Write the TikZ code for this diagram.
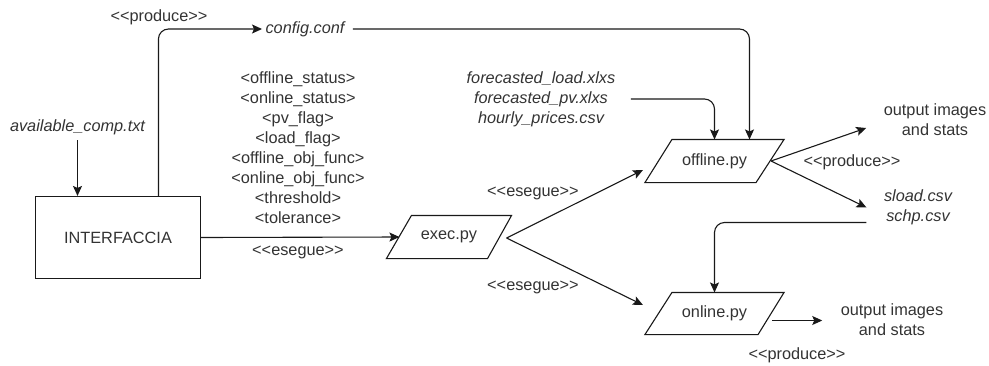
\documentclass[tikz,border=0pt]{standalone}
\usepackage{fontspec}
\setmainfont{Liberation Sans}[Ligatures=TeXOff]
\usetikzlibrary{arrows.meta,calc}

% parallelogram drawn over a named (invisible) rectangle node
\newcommand\drawpgram[3]{%
  \draw ($(#1.north west)+(#2,0)$) -- (#1.north east)
        -- ($(#1.south east)+(-#3,0)$) -- (#1.south west) -- cycle;}

\begin{document}
\begin{tikzpicture}[x=1pt,y=-1pt,line width=1.1pt,draw=black!90,
  every node/.style={font=\fontsize{16.3}{20}\selectfont,inner sep=0pt,align=center,text=black!80},
  file/.style={font=\fontsize{16.3}{20}\selectfont\itshape},
  conn/.style={-{Stealth[length=10pt,width=9pt,inset=2pt]},line join=round},
  roundconn/.style={conn,rounded corners=10pt},
  pgbox/.style={minimum width=138pt,minimum height=42pt}]
\useasboundingbox (0,0) rectangle (989,365);

% main blocks
\node[draw,text=black!80,minimum width=165pt,minimum height=82pt] (box) at (118,237.5) {INTERFACCIA};
\node[pgbox,minimum width=124pt] (exec) at (449,237) {exec.py};
\node[pgbox] (offline) at (714.5,161) {offline.py};
\node[pgbox,minimum height=41pt] (online) at (714.5,313.5) {online.py};
\drawpgram{exec}{25}{24}
\drawpgram{offline}{27}{28}
\drawpgram{online}{27}{26}

% files and outputs
\node[file] (avail) at (77.5,127) {available\_comp.txt};
\node[file] (conf) at (305,29) {config.conf};
\node[file] (fc) at (541,99) {forecasted\_load.xlxs\\forecasted\_pv.xlxs\\hourly\_prices.csv};
\node[file] (files) at (918,207.5) {sload.csv\\schp.csv};
\node (out1) at (935,120) {output images\\and stats};
\node (out2) at (892,320) {output images\\and stats};

% parameters passed to exec.py
\node (params) at (298,147.5) {<offline\_status>\\<online\_status>\\<pv\_flag>\\<load\_flag>\\<offline\_obj\_func>\\<online\_obj\_func>\\<threshold>\\<tolerance>};

% stereotype labels
\node (lp1) at (159,17) {<<produce>>};
\node (le1) at (298,252) {<<esegue>>};
\node (le2) at (533,193) {<<esegue>>};
\node (le3) at (533,287) {<<esegue>>};
\node (lp2) at (852,162) {<<produce>>};
\node (lp3) at (797,355) {<<produce>>};

% connectors
\draw[conn] ($(avail.south)+(0,5)$) -- (box.north -| avail.south);
\draw[roundconn] ($(box.north west)+(123.5,0)$) |- ($(conf.west)+(-3,0)$);
\draw[roundconn] ($(conf.east)+(8,0)$) -| ($(offline.north)+(35,0)$);
\draw[roundconn] ($(fc.east)+(15,0)$) -| (offline.north);
\draw[conn] (box.east) -- ($(exec.west)+(13,0)$);
\draw[conn] ($(exec.east)+(-5,1)$) -- ($(offline.west)+(-2,9)$);
\draw[conn] ($(exec.east)+(-5,1)$) -- ($(online.west)+(-2,-8.5)$);
\draw[conn] ($(offline.east)+(-13,0)$) -- ($(out1.west)+(-17,8)$);
\draw[conn] ($(offline.east)+(-13,0)$) -- ($(files.west)+(-17,0)$);
\draw[roundconn] ($(files.west)+(-17,15)$) -| (online.north);
\draw[conn] ($(online.east)+(-12,7)$) -- ($(out2.west)+(-18,0.5)$);
\end{tikzpicture}
\end{document}
